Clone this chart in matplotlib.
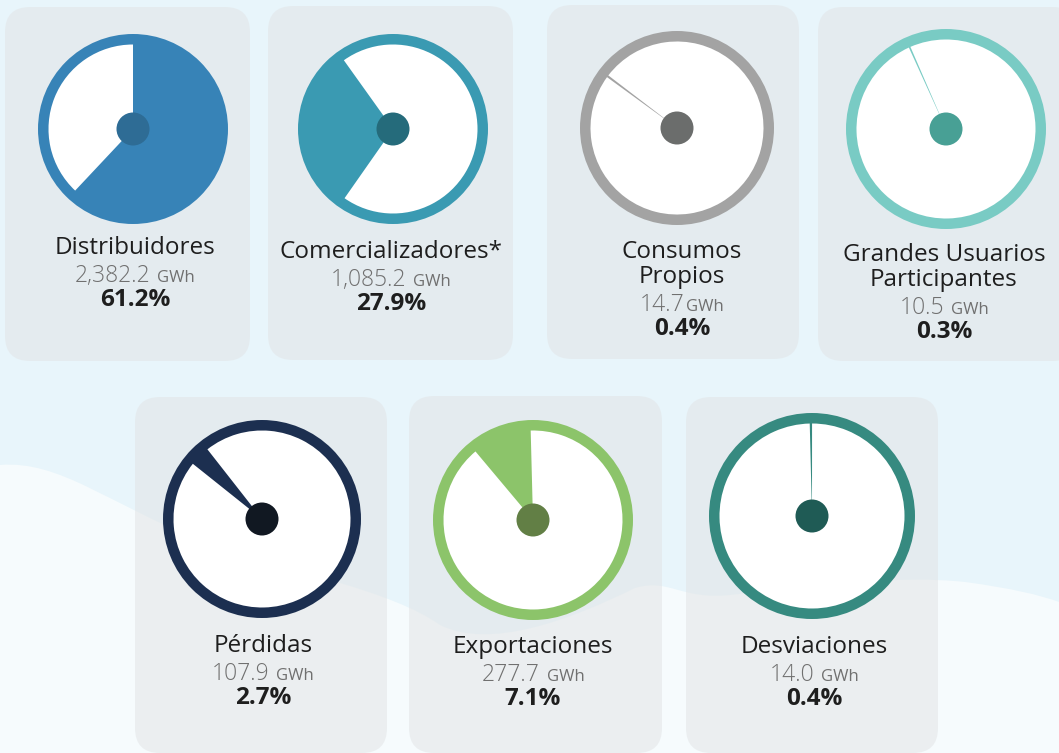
import matplotlib
matplotlib.use('Agg')
import matplotlib.pyplot as plt
from matplotlib.patches import FancyBboxPatch, Circle, PathPatch
from matplotlib.path import Path

### Data
names = ['Distribuidores', 'Comercializadores*', 'Consumos\nPropios',
         'Grandes Usuarios\nParticipantes', 'Pérdidas', 'Exportaciones', 'Desviaciones']
energy_gwh = [2382.2, 1085.2, 14.7, 10.5, 107.9, 277.7, 14.0]
share_pct = [61.2, 27.9, 0.4, 0.3, 2.7, 7.1, 0.4]
# size of the coloured wedge as drawn in each gauge (percent of the circle)
wedge_pct = [62.0, 30.4, 0.4, 0.3, 3.7, 10.7, 0.4]

### Layout / style (pixels, y downwards)
W, H = 1059, 753
ring_col = ['#3783b7', '#3a9ab2', '#a3a3a3', '#79cbc4', '#1c2f50', '#8cc46a', '#368a80']
dot_col = ['#2e6c95', '#256b7b', '#6b6d6c', '#48a095', '#111822', '#627f45', '#1f5b55']
wedge_start = [0, 215, 306, 335.5, 308.6, 320, 358.6]   # clockwise from 12 o'clock
centers = [(133, 129), (393, 129), (677, 128), (946, 129), (262, 519), (533, 520), (812, 516)]
radius = [95, 95, 97, 100, 99, 100, 103]
cards = [(5, 7, 245, 354), (268, 6, 245, 354), (547, 5, 252, 354), (818, 7, 260, 354),
         (135, 397, 252, 356), (409, 396, 253, 357), (686, 397, 252, 356)]
text_x = [135, 391, 682, 944, 263, 533, 814]
name_y = [248, 252, 252, 255, 646, 647, 647]

BG = '#e8f5fb'
FONT = 'Open Sans'

fig = plt.figure(figsize=(W / 100.0, H / 100.0), dpi=100)
fig.patch.set_facecolor(BG)
ax = fig.add_axes([0, 0, 1, 1])
ax.set_xlim(0, W)
ax.set_ylim(H, 0)
ax.axis('off')

### lighter wave at the bottom
verts = [(0, 465),
         (60, 460), (110, 505), (200, 540),
         (300, 575), (390, 590), (440, 625),
         (490, 650), (570, 620), (635, 588),
         (670, 578), (680, 600), (730, 595),
         (820, 585), (900, 575), (965, 582),
         (1010, 588), (1040, 595), (1059, 602),
         (1059, 753), (0, 753), (0, 465)]
codes = [Path.MOVETO] + [Path.CURVE4] * 18 + [Path.LINETO, Path.LINETO, Path.CLOSEPOLY]
ax.add_patch(PathPatch(Path(verts, codes), facecolor='#f6fbfd', edgecolor='none', zorder=1))

### cards
for (x, y, w, h) in cards:
    ax.add_patch(FancyBboxPatch((x + 25, y + 25), w - 50, h - 50,
                                boxstyle='round,pad=25', facecolor='#e2e4e6',
                                edgecolor='none', alpha=0.55, zorder=2))

renderer = fig.canvas.get_renderer()

for i in range(len(names)):
    cx, cy = centers[i]
    r = radius[i]
    gax = fig.add_axes([(cx - r) / W, (H - cy - r) / H, 2.0 * r / W, 2.0 * r / H])
    gax.axis('off')
    inner = 1 - 10.5 / r
    gax.add_patch(Circle((0, 0), 1.0, color=ring_col[i], lw=0))
    gax.pie([wedge_pct[i], 100 - wedge_pct[i]], colors=[ring_col[i], 'white'],
            radius=inner, startangle=90 - wedge_start[i], counterclock=False,
            wedgeprops=dict(linewidth=0))
    gax.set_xlim(-1, 1)
    gax.set_ylim(-1, 1)
    gax.set_aspect('equal')
    gax.add_patch(Circle((0, 0), 16.5 / r, color=dot_col[i], lw=0, zorder=5))

    ### texts under the gauge
    tx = text_x[i]
    ny = name_y[i]
    lines = names[i].split('\n')
    for k, line in enumerate(lines):
        ax.text(tx, ny + 25 * k, line, ha='center', va='center', fontsize=17.5,
                family=FONT, color='#1e1e1e', zorder=6)
    vy = ny + 25 * len(lines) + 2
    num = '{:,.1f}'.format(energy_gwh[i])
    t1 = ax.text(0, vy + 7, num, ha='left', va='baseline', fontsize=16.5,
                 family=FONT, color='#707070', fontweight='light', zorder=6)
    t2 = ax.text(0, vy + 7, 'GWh', ha='left', va='baseline', fontsize=12,
                 family=FONT, color='#707070', zorder=6)
    w1 = t1.get_window_extent(renderer).width
    w2 = t2.get_window_extent(renderer).width
    gap = 1 if i == 2 else 7
    x0 = tx - (w1 + gap + w2) / 2.0
    t1.set_x(x0)
    t2.set_x(x0 + w1 + gap)
    ax.text(tx, vy + 25, '{:.1f}%'.format(share_pct[i]), ha='center', va='center',
            fontsize=17.5, family=FONT, fontweight='bold', color='#1e1e1e', zorder=6)

plt.savefig('out.png', dpi=100, facecolor=BG)
